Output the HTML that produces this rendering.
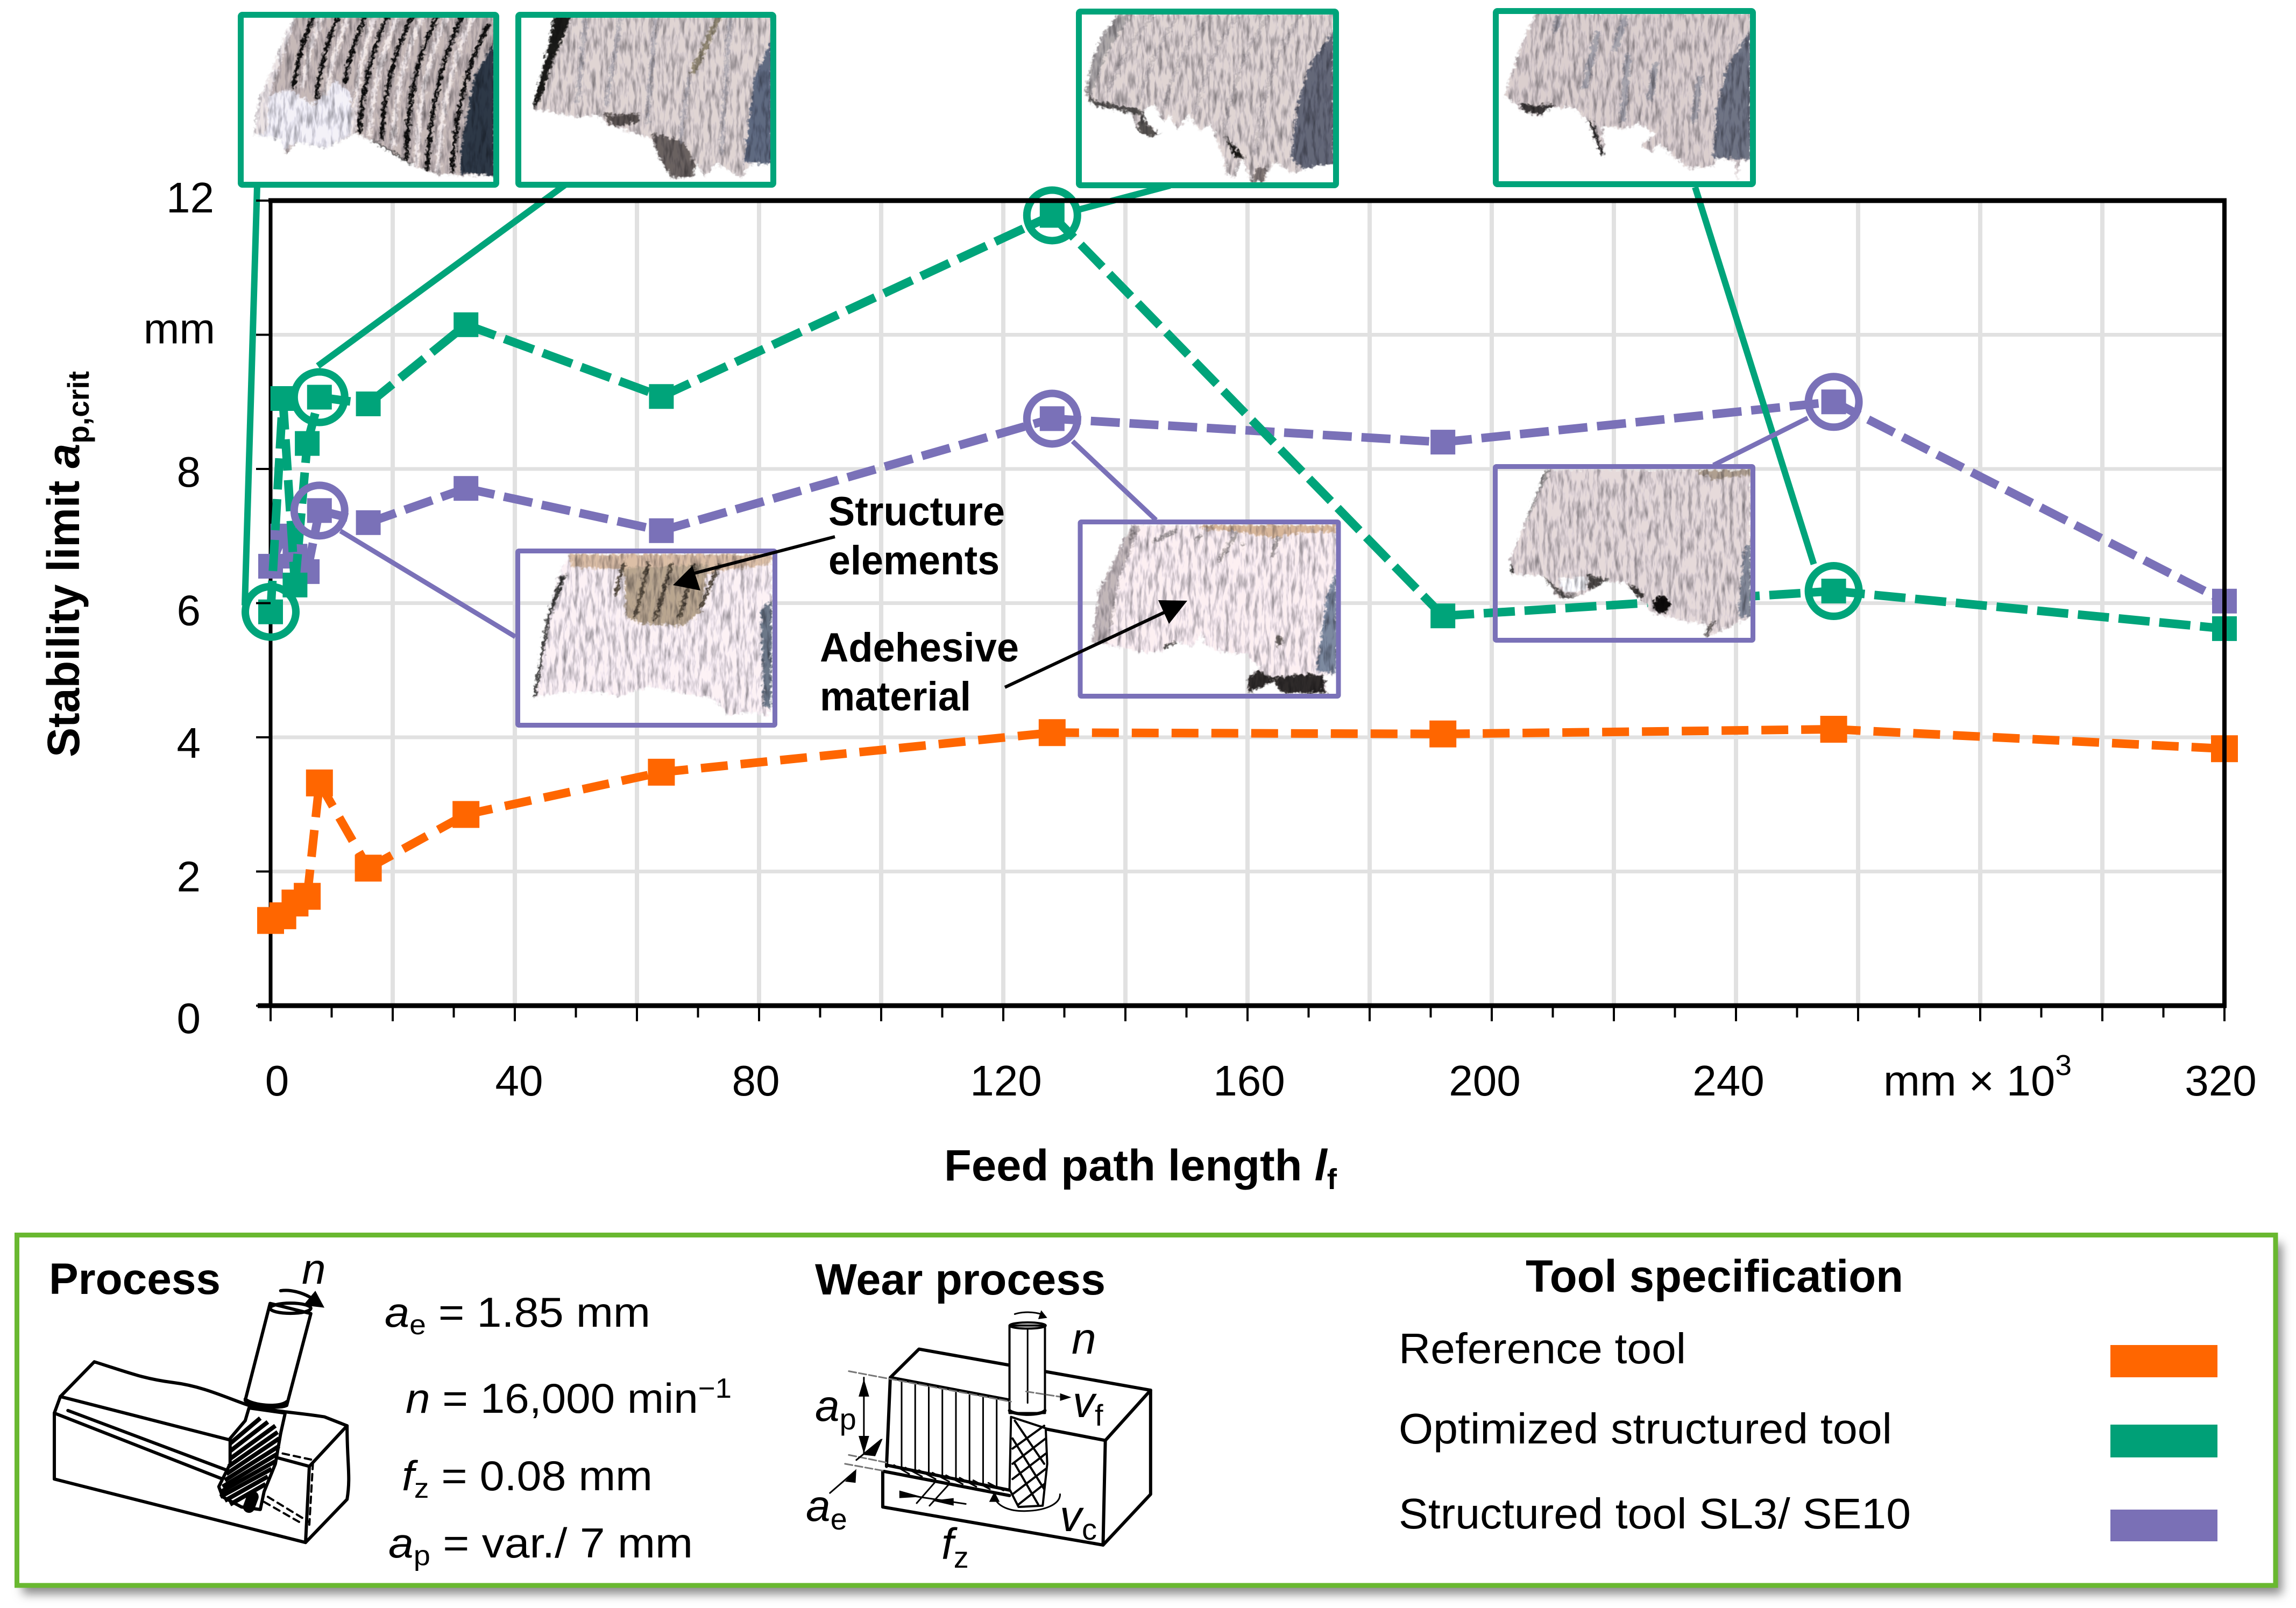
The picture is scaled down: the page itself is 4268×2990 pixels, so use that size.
<!DOCTYPE html>
<html lang="en">
<head>
<meta charset="utf-8">
<title>Stability limit over feed path length</title>
<style>
html,body{margin:0;padding:0;background:#fff;width:4268px;height:2990px;overflow:hidden}
svg{display:block}
text{font-family:"Liberation Sans",sans-serif;fill:#000}
.ill *{vector-effect:non-scaling-stroke}
.ill path,.ill line,.ill ellipse{fill:none;stroke:#000;stroke-width:6;stroke-linejoin:round;stroke-linecap:round}
.ill .thin{stroke-width:3}
.ill .dash{stroke-width:4;stroke-dasharray:12 9}
.ill .grey{stroke:#777;stroke-width:3;stroke-dasharray:14 5}
.ill .solid{fill:#000;stroke:none}
.ill .white{fill:#fff}
.ill .flute{stroke-width:8;stroke-linecap:butt}
.ill .flute2{stroke-width:4}
</style>
</head>
<body>
<svg xmlns="http://www.w3.org/2000/svg" width="4268" height="2990" viewBox="0 0 4268 2990">
<defs>
<filter id="tex" color-interpolation-filters="sRGB">
<feTurbulence type="fractalNoise" baseFrequency="0.14" numOctaves="2" seed="9" result="d"/>
<feGaussianBlur in="SourceGraphic" stdDeviation="1.6" result="b"/>
<feDisplacementMap in="b" in2="d" scale="14" xChannelSelector="R" yChannelSelector="G" result="s"/>
<feTurbulence type="fractalNoise" baseFrequency="0.13 0.03" numOctaves="3" seed="4" result="n"/>
<feColorMatrix in="n" type="matrix" values="0.9 0 0 0 0.48  0.9 0 0 0 0.48  0.9 0 0 0 0.5  0 0 0 0 1" result="g"/>
<feComposite in="s" in2="g" operator="arithmetic" k1="1" k2="0" k3="0" k4="0"/>
</filter>
<filter id="shadowBlur" x="-2%" y="-5%" width="104%" height="110%"><feGaussianBlur stdDeviation="9"/></filter>
<clipPath id="c1"><polygon points="195,48 165,130 140,220 105,330 95,435 160,450 170,500 200,460 270,480 340,430 400,470 470,530 540,565 680,570 680,48"/></clipPath>
<clipPath id="c2"><polygon points="825,48 800,200 770,350 880,380 930,370 950,400 1060,450 1080,510 1110,575 1160,575 1170,530 1190,570 1220,530 1280,575 1300,530 1355,530 1355,48"/></clipPath>
<clipPath id="c3"><polygon points="270,78 180,190 120,340 80,520 130,590 340,630 370,720 440,765 500,750 420,680 400,625 440,590 475,590 520,680 550,640 600,720 660,640 720,730 780,690 810,770 850,870 870,970 920,985 930,940 960,880 1010,1015 1090,1015 1090,960 1140,900 1240,965 1300,940 1470,910 1470,78"/></clipPath>
<clipPath id="c4"><polygon points="305,72 250,250 210,430 190,530 260,620 310,650 360,600 440,600 490,670 540,860 555,870 545,700 620,720 680,690 740,745 690,810 725,850 750,800 860,940 950,925 960,880 1030,900 1035,1015 1045,900 1088,890 1088,72"/></clipPath>
<clipPath id="c5"><polygon points="105,540 85,680 65,900 40,1340 100,1310 160,1310 200,1335 250,1280 370,1350 395,1445 440,1420 465,1445 475,1400 475,540"/></clipPath>
<clipPath id="c6"><polygon points="310,48 230,210 130,410 90,700 200,720 380,760 490,750 560,700 650,725 700,650 720,720 830,760 960,770 970,800 1030,840 955,905 960,985 1020,960 1100,920 1150,988 1400,988 1380,880 1455,880 1455,48"/></clipPath>
<clipPath id="c7"><polygon points="340,160 270,430 210,660 215,745 330,750 390,880 470,860 560,780 630,790 730,960 870,1010 930,1020 920,1095 990,1050 1088,980 1088,160"/></clipPath>
</defs>

<rect x="0" y="0" width="4268" height="2990" fill="#fff"/>

<g id="grid-layer"></g>
<g id="series-layer"></g>

<!-- micrograph insets: tool wear photos -->
<g>
  <g filter="url(#tex)"><g transform="translate(400,0) scale(.765,.574)"><g clip-path="url(#c1)">
    <rect x="80" y="40" width="620" height="540" fill="#c6b9b7"/>
    <polygon points="680,130 630,250 600,450 595,560 680,570" fill="#2d3846"/>
    <polygon points="150,300 180,290 240,340 290,260 330,300 335,430 270,480 200,460 160,490 100,435 105,330" fill="#f4f2f8"/>
    <polygon points="195,48 165,130 140,220 105,330 95,435 125,430 130,320 160,200 190,90" fill="#ece4e4"/>
    <g fill="none" stroke="#f3eae8" stroke-width="11">
      <path d="M262 48 Q225 160 212 285"/><path d="M325 48 Q285 180 268 310"/><path d="M390 48 Q345 200 335 430"/>
      <path d="M445 50 Q385 220 375 440"/><path d="M505 50 Q435 240 432 480"/><path d="M565 50 Q490 250 490 540"/>
      <path d="M628 50 Q550 260 540 560"/>
    </g>
    <g fill="none" stroke="#050505" stroke-width="9">
      <path d="M240 48 Q205 150 190 285"/><path d="M300 48 Q260 170 245 320"/><path d="M365 48 Q320 200 315 270"/>
      <path d="M420 50 Q360 220 350 430"/><path d="M480 50 Q410 230 405 450"/><path d="M540 50 Q465 250 465 520"/>
      <path d="M600 50 Q525 260 515 550"/><path d="M665 80 Q590 250 575 560"/>
    </g>
    <polygon points="360,445 400,465 470,525 500,560 470,540 400,490" fill="#111"/>
  </g></g></g>
</g>
<g>
  <g filter="url(#tex)"><g transform="translate(400,0) scale(.765,.574)"><g clip-path="url(#c2)">
    <rect x="760" y="40" width="610" height="540" fill="#e0d5d3"/>
    <polygon points="820,48 868,48 820,200 790,320 770,355 780,250" fill="#1a1a18"/>
    <polygon points="1355,120 1310,250 1285,525 1355,535" fill="#5f6a80"/>
    <polygon points="1060,430 1140,460 1170,540 1160,580 1105,580 1075,510" fill="#6a6260"/>
    <polygon points="940,370 1030,370 1030,395 970,410" fill="#5a5250"/>
    <path d="M1225 48 L1160 240" stroke="#8f8570" stroke-width="14" fill="none"/>
    <g fill="none" stroke="#8d8f9c" stroke-width="9" opacity=".45"><path d="M900 60 L880 330"/><path d="M985 60 L950 340"/><path d="M1070 60 L1050 400"/><path d="M1150 250 L1130 460"/><path d="M1250 60 L1230 500"/></g>
  </g></g></g>
</g>
<g>
  <g filter="url(#tex)"><g transform="translate(1990,0) scale(.3333)"><g clip-path="url(#c3)">
    <rect x="60" y="70" width="1430" height="960" fill="#e0d5d3"/>
    <polygon points="1470,170 1340,350 1260,600 1230,880 1300,945 1470,910" fill="#646878"/>
    <polygon points="270,78 340,78 190,320 120,520 80,525 120,340 180,190" fill="#aba6a6"/>
    <polygon points="80,500 130,560 340,600 400,620 370,720 440,765 500,750 420,690 410,640 340,635 130,600" fill="#55514f"/>
    <polygon points="860,755 940,850 975,890 920,880" fill="#161412"/>
    <polygon points="1010,1015 1040,930 1090,935 1080,1015" fill="#7e7472"/>
    <g fill="none" stroke="#a59fa4" stroke-width="18" opacity=".5">
      <path d="M470 80 Q300 250 210 520"/><path d="M610 80 Q440 300 380 580"/><path d="M780 80 Q590 300 520 600"/>
      <path d="M940 80 Q770 300 690 640"/><path d="M1110 80 Q930 320 860 720"/><path d="M1290 80 Q1090 340 1030 860"/>
    </g>
  </g></g></g>
</g>
<g>
  <g filter="url(#tex)"><g transform="translate(2700,0) scale(.5102,.3333)"><g clip-path="url(#c4)">
    <rect x="180" y="60" width="920" height="970" fill="#dbcfce"/>
    <polygon points="1088,170 1000,370 960,620 950,880 1088,890" fill="#6f7484"/>
    <g fill="none" stroke="#79808f" stroke-width="22" opacity=".55">
      <path d="M390 80 L375 180"/><path d="M630 90 L590 280"/><path d="M530 180 L480 500"/><path d="M740 350 L720 560"/><path d="M900 420 L880 680"/><path d="M640 300 L620 680"/>
    </g>
    <polygon points="240,570 290,590 370,580 360,615 310,640 260,620" fill="#3a3636"/>
    <path d="M500 670 L550 870" stroke="#2c2a2a" stroke-width="13" fill="none"/>
  </g></g></g>
</g>
<g>
  <g filter="url(#tex)"><g transform="translate(950,850) scale(1.0204,.3333)"><g clip-path="url(#c5)">
    <rect x="30" y="530" width="460" height="930" fill="#fdf2f5"/>
    <polygon points="105,540 475,540 475,595 350,650 250,640 110,610" fill="#dcbfa6"/>
    <polygon points="205,620 360,600 345,860 315,940 240,930 210,890" fill="#b9a68f"/>
    <g fill="none" stroke="#4d4337" stroke-width="6">
      <path d="M205 590 L190 770"/><path d="M250 590 L225 900"/><path d="M293 590 L262 910"/><path d="M335 590 L305 900"/><path d="M380 590 L345 850"/>
    </g>
    <polygon points="455,850 475,800 475,1400 460,1390" fill="#6c7888"/>
    <polygon points="90,660 100,660 70,900 45,1340 38,1340 65,900" fill="#3a3a38"/>
  </g></g></g>
</g>
<g>
  <g filter="url(#tex)"><g transform="translate(2000,960) scale(.3333)"><g clip-path="url(#c6)">
    <rect x="80" y="40" width="1390" height="960" fill="#fdf0f2"/>
    <polygon points="700,48 1455,48 1455,90 1300,85 1100,120 900,85 700,72" fill="#d8b79a"/>
    <polygon points="1455,300 1400,450 1340,860 1455,880" fill="#7d8a9f"/>
    <polygon points="310,48 360,60 240,350 180,710 90,700 130,410 230,210" fill="#c2b7b8"/>
    <g fill="none" stroke="#6b6664" stroke-width="20" opacity=".6"><path d="M325 80 L305 130"/><path d="M570 75 L430 140"/><path d="M700 100 L665 135"/><path d="M900 90 L800 250"/><path d="M930 150 L930 170"/><path d="M1130 110 L1090 230"/></g>
    <polygon points="1020,855 1090,900 1180,890 1250,880 1390,885 1380,950 1400,990 1150,990 1100,930 1020,960 965,988 955,905" fill="#2f2b2a"/>
    <ellipse cx="1135" cy="695" rx="22" ry="26" fill="#6b6460"/>
    <polygon points="490,725 560,690 540,730 500,755" fill="#4b4744"/>
  </g></g></g>
</g>
<g>
  <g filter="url(#tex)"><g transform="translate(2700,820) scale(.5102,.3333)"><g clip-path="url(#c7)">
    <rect x="190" y="150" width="910" height="960" fill="#e6dada"/>
    <polygon points="385,770 490,760 490,820 440,850 405,840" fill="#fff"/>
    <polygon points="330,750 345,790 400,880 470,880 500,840 480,860 410,860 360,790" fill="#55504e"/>
    <polygon points="490,745 570,775 500,840" fill="#4a4644"/>
    <polygon points="640,790 700,860 690,880 650,850" fill="#3c3836"/>
    <ellipse cx="762" cy="912" rx="30" ry="48" fill="#0d0b0b"/>
    <polygon points="205,650 225,740 210,745 200,690" fill="#121110"/>
    <polygon points="340,160 300,300 250,480 275,430 330,230 355,160" fill="#8d8a88"/>
    <polygon points="880,160 1088,160 1088,190 950,215" fill="#b0a090"/>
    <polygon points="1060,620 1088,560 1088,980 1040,980" fill="#838998"/>
    <path d="M915 1095 L950 1010" stroke="#6a6462" stroke-width="14" fill="none"/>
  </g></g></g>
</g>

<g id="callout-layer"></g>

<!-- inset frames -->
<rect x="447.500" y="27.500" width="475" height="316" rx="3" fill="none" stroke="#00a47a" stroke-width="11"/>
<rect x="963.500" y="27.500" width="474" height="316" rx="3" fill="none" stroke="#00a47a" stroke-width="11"/>
<rect x="2005.500" y="21.500" width="478" height="323" rx="3" fill="none" stroke="#00a47a" stroke-width="11"/>
<rect x="2780.500" y="20.500" width="478" height="322" rx="3" fill="none" stroke="#00a47a" stroke-width="11"/>
<rect x="962.500" y="1024.500" width="478" height="324" rx="2" fill="none" stroke="#7a71b8" stroke-width="9"/>
<rect x="2008" y="970.500" width="480" height="324" rx="2" fill="none" stroke="#7a71b8" stroke-width="9"/>
<rect x="2779.500" y="867.500" width="479" height="323" rx="2" fill="none" stroke="#7a71b8" stroke-width="9"/>

<!-- annotation arrows -->
<g>
  <path d="M1552 998 L1275 1070" stroke="#000" stroke-width="6" fill="none"/>
  <polygon points="1251,1088 1287,1052 1302,1098" fill="#000"/>
</g>
<g>
  <path d="M1868 1278 L2170 1136" stroke="#000" stroke-width="6" fill="none"/>
  <polygon points="2207,1117 2153,1116 2173,1160" fill="#000"/>
</g>
<text x="1540" y="977" font-size="76" font-weight="700" textLength="328" lengthAdjust="spacingAndGlyphs">Structure</text>
<text x="1540" y="1068" font-size="76" font-weight="700" textLength="318" lengthAdjust="spacingAndGlyphs">elements</text>
<text x="1524" y="1230" font-size="76" font-weight="700" textLength="370" lengthAdjust="spacingAndGlyphs">Adehesive</text>
<text x="1524" y="1321" font-size="76" font-weight="700" textLength="281" lengthAdjust="spacingAndGlyphs">material</text>

<!-- axis titles and unit -->
<text transform="translate(147,1408) rotate(-90)" font-size="84" font-weight="700" textLength="718" lengthAdjust="spacingAndGlyphs">Stability limit <tspan font-style="italic">a</tspan><tspan font-size="56" dy="18">p,crit</tspan></text>
<text x="1755" y="2195" font-size="82" font-weight="700" textLength="730" lengthAdjust="spacingAndGlyphs">Feed path length <tspan font-style="italic">l</tspan><tspan font-size="54" dy="16">f</tspan></text>
<text x="3501" y="2037" font-size="80" textLength="350" lengthAdjust="spacingAndGlyphs">mm × 10<tspan font-size="54" dy="-38">3</tspan></text>

<!-- lower information panel -->
<g>
  <rect x="42" y="2312" width="4200" height="652" fill="#8a8a8a" filter="url(#shadowBlur)"/>
  <rect x="31.500" y="2296.500" width="4198.500" height="651.500" fill="#fff" stroke="#69b830" stroke-width="9"/>
  <text x="91" y="2406" font-size="82" font-weight="700" textLength="319" lengthAdjust="spacingAndGlyphs">Process</text>
  <text x="1515" y="2407" font-size="82" font-weight="700" textLength="540" lengthAdjust="spacingAndGlyphs">Wear process</text>
  <text x="2836" y="2402" font-size="84" font-weight="700" textLength="702" lengthAdjust="spacingAndGlyphs">Tool specification</text>

  <text x="715" y="2467" font-size="78" textLength="494" lengthAdjust="spacingAndGlyphs"><tspan font-style="italic">a</tspan><tspan font-size="52" dy="14">e</tspan><tspan dy="-14"> = 1.85 mm</tspan></text>
  <text x="754" y="2627" font-size="78" textLength="606" lengthAdjust="spacingAndGlyphs"><tspan font-style="italic">n</tspan> = 16,000 min<tspan font-size="52" dy="-28">−1</tspan></text>
  <text x="747" y="2771" font-size="78" textLength="466" lengthAdjust="spacingAndGlyphs"><tspan font-style="italic">f</tspan><tspan font-size="52" dy="14">z</tspan><tspan dy="-14"> = 0.08 mm</tspan></text>
  <text x="722" y="2896" font-size="78" textLength="566" lengthAdjust="spacingAndGlyphs"><tspan font-style="italic">a</tspan><tspan font-size="52" dy="14">p</tspan><tspan dy="-14"> = var./ 7 mm</tspan></text>

  <!-- process illustration -->
  <g class="ill" transform="translate(0,2250) scale(1.4025,.4719)">
    <path d="M80 735 L125 598 C170 640 190 665 230 680 C270 695 300 740 330 770 C350 790 400 800 430 815 L460 850 L410 1010 L360 970"/>
    <path d="M80 735 L310 910"/>
    <path d="M80 735 L72 800 L72 1060 L405 1310 L460 1140 C465 1050 460 1000 460 850"/>
    <path d="M72 800 L295 1060"/><path d="M90 790 L305 1030"/>
    <path d="M410 1010 L405 1310"/>
    <path class="dash" d="M360 950 L415 985 L410 1240"/>
    <path class="dash" d="M355 1130 L410 1230"/><path class="dash" d="M350 1150 L400 1235"/>
    <path class="white" d="M358 368 L325 750 C330 775 370 785 380 770 L412 408 Z"/>
    <ellipse cx="385" cy="387" rx="27" ry="20"/>
    <path d="M325 745 C335 770 370 780 380 755"/>
    <path class="white" d="M330 780 L378 800 L372 880 L365 1000 L350 1110 L345 1180 L320 1170 L295 1130 L290 1090 L305 1000 L305 900 L325 830 Z"/>
    <path class="flute" d="M305 920 L345 820"/><path class="flute" d="M305 950 L355 835"/>
    <path class="flute" d="M305 980 L365 850"/><path class="flute" d="M303 1010 L368 875"/>
    <path class="flute" d="M300 1040 L370 900"/><path class="flute" d="M298 1065 L370 930"/>
    <path class="flute" d="M295 1090 L368 960"/><path class="flute" d="M293 1110 L365 990"/>
    <path class="flute" d="M292 1130 L360 1020"/><path class="flute" d="M298 1145 L355 1050"/>
    <path class="flute" d="M305 1160 L352 1080"/>
    <path d="M335 1130 L330 1170" style="stroke-width:22"/>
    <path d="M372 318 C385 312 400 325 412 345"/>
    <path class="solid" d="M402 375 L430 385 L418 318 Z"/>
  </g>
  <text x="561" y="2387" font-size="80" font-style="italic">n</text>

  <!-- wear process illustration -->
  <g class="ill" transform="translate(0,2250) scale(1.4025,.4719)">
    <path d="M1180 660 L1218 548 L1525 710 L1465 908 L1385 862"/>
    <path d="M1180 660 L1340 750"/>
    <path d="M1180 660 L1175 1010"/>
    <path d="M1175 1005 L1340 1105"/>
    <path d="M1170 1030 L1170 1170 L1462 1320 L1465 908"/>
    <path d="M1525 710 L1525 1120 L1462 1320"/>
    <path class="thin" d="M1195 670 V1015 M1213 680 V1025 M1231 690 V1035 M1249 700 V1045 M1267 710 V1055 M1285 720 V1065 M1303 730 V1075 M1321 740 V1090"/>
    <path class="thin" d="M1185 1005 L1205 1040 M1200 1015 L1222 1050 M1218 1025 L1240 1060 M1236 1035 L1258 1070 M1254 1045 L1276 1080 M1272 1055 L1294 1090 M1290 1065 L1312 1100 M1310 1075 L1330 1105"/>
    <path d="M1172 1030 L1338 1125"/>
    <path class="white" style="stroke-width:4" d="M1338 455 L1338 800 L1385 800 L1385 455 Z"/>
    <ellipse cx="1362" cy="455" rx="24" ry="12" style="stroke-width:4"/>
    <path class="thin" d="M1362 470 V760"/>
    <path d="M1338 790 C1345 810 1380 810 1385 790"/>
    <path class="white" style="stroke-width:4" d="M1340 815 L1386 860 L1388 1000 L1382 1165 L1350 1170 L1338 1100 Z"/>
    <path class="flute2" d="M1342 940 L1384 850"/><path class="flute2" d="M1342 1000 L1386 900"/>
    <path class="flute2" d="M1342 1060 L1386 960"/><path class="flute2" d="M1342 1120 L1386 1020"/>
    <path class="flute2" d="M1350 1160 L1384 1080"/>
    <path class="flute2" d="M1345 830 L1384 1000"/><path class="flute2" d="M1342 900 L1384 1100"/>
    <path class="flute2" d="M1345 1000 L1376 1160"/>
    <path class="thin" d="M1318 1125 C1320 1170 1340 1188 1360 1186 C1385 1184 1405 1160 1405 1120"/>
    <path class="solid" d="M1311 1150 L1318 1110 L1325 1150 Z"/>
    <path class="thin" d="M1345 410 C1355 400 1370 400 1382 412"/>
    <path class="solid" d="M1376 430 L1380 395 L1388 425 Z"/>
    <path class="thin" d="M1145 660 V960"/>
    <path class="solid" d="M1138 735 L1145 665 L1152 735 Z"/><path class="solid" d="M1138 890 L1145 960 L1152 890 Z"/>
    <path class="grey" d="M1125 635 L1340 755"/><path class="grey" d="M1360 715 L1410 738"/>
    <path class="solid" d="M1405 722 L1420 738 L1405 752 Z"/>
    <path class="grey" d="M1125 965 L1175 995"/><path class="grey" d="M1120 1000 L1172 1028"/>
    <path class="thin" d="M1100 1115 L1133 1030"/><path class="solid" d="M1120 1070 L1135 1020 L1134 1075 Z"/>
    <path class="thin" d="M1135 985 L1168 905"/><path class="solid" d="M1145 965 L1170 900 L1160 970 Z"/>
    <path class="thin" d="M1215 1155 L1240 1070 M1232 1165 L1258 1080"/>
    <path class="thin" d="M1195 1120 L1280 1158"/>
    <path class="solid" d="M1192 1105 L1222 1130 L1192 1135 Z"/><path class="solid" d="M1264 1135 L1235 1145 L1264 1165 Z"/>
  </g>
  <text x="1515" y="2642" font-size="82"><tspan font-style="italic">a</tspan><tspan font-size="56" dy="16">p</tspan></text>
  <text x="1498" y="2828" font-size="82"><tspan font-style="italic">a</tspan><tspan font-size="56" dy="16">e</tspan></text>
  <text x="1750" y="2899" font-size="82"><tspan font-style="italic">f</tspan><tspan font-size="56" dy="16">z</tspan></text>
  <text x="1994" y="2635" font-size="82"><tspan font-style="italic">v</tspan><tspan font-size="56" dy="16">f</tspan></text>
  <text x="1970" y="2847" font-size="82"><tspan font-style="italic">v</tspan><tspan font-size="56" dy="16">c</tspan></text>
  <text x="1992" y="2517" font-size="82" font-style="italic">n</text>

  <!-- legend -->
  <text x="2600" y="2535" font-size="80" textLength="534" lengthAdjust="spacingAndGlyphs">Reference tool</text>
  <text x="2600" y="2684" font-size="80" textLength="917" lengthAdjust="spacingAndGlyphs">Optimized structured tool</text>
  <text x="2600" y="2842" font-size="80" textLength="952" lengthAdjust="spacingAndGlyphs">Structured tool SL3/ SE10</text>
  <rect x="3923" y="2501" width="199" height="60" fill="#ff6600"/>
  <rect x="3923" y="2649" width="199" height="61" fill="#00a077"/>
  <rect x="3923" y="2807" width="199" height="59" fill="#7a70b6"/>
</g>

<g id="axis-layer"></g>

<script>
// Chart data
const feedPath = [0, 2, 4, 6, 8, 16, 32, 64, 128, 192, 256, 320];
const referenceTool = [1.27, 1.34, 1.53, 1.63, 3.32, 2.05, 2.85, 3.48, 4.07, 4.05, 4.12, 3.83];
const optimizedTool = [5.87, 9.05, 6.27, 8.38, 9.07, 8.97, 10.15, 9.08, 11.78, 5.81, 6.18, 5.62];
const structuredTool = [6.55, 7.0, 6.7, 6.47, 7.38, 7.2, 7.71, 7.08, 8.75, 8.4, 9.0, 6.03];
const xTickValues = [0, 40, 80, 120, 160, 200, 240, 320];
const xTickLabels = ['0', '40', '80', '120', '160', '200', '240', '320'];
const yTickValues = [0, 2, 4, 6, 8, 10, 12];
const yTickLabels = ['0', '2', '4', '6', '8', 'mm', '12'];
const optimizedHighlights = [0, 4, 8, 10];
const structuredHighlights = [4, 8, 10];

// Layout
const plot = {left: 503, right: 4135, top: 373, bottom: 1870};
const xMax = 320, yMax = 12;
const NS = 'http://www.w3.org/2000/svg';
function xPos(v) { return plot.left + v / xMax * (plot.right - plot.left); }
function yPos(v) { return plot.bottom - v / yMax * (plot.bottom - plot.top); }
function make(parent, tag, attrs) {
  const n = document.createElementNS(NS, tag);
  for (const k in attrs) n.setAttribute(k, attrs[k]);
  parent.appendChild(n);
  return n;
}
const gridLayer = document.getElementById('grid-layer');
const seriesLayer = document.getElementById('series-layer');
const calloutLayer = document.getElementById('callout-layer');
const axisLayer = document.getElementById('axis-layer');

// Grid lines
for (let v = 20; v < xMax; v += 20) {
  const el = make(gridLayer, 'line', {x1: xPos(v), x2: xPos(v), y1: plot.top, y2: plot.bottom, stroke: '#e1e1e1', 'stroke-width': 8});
  
  
}
yTickValues.slice(1, -1).forEach(function (v) {
  const el = make(gridLayer, 'line', {x1: plot.left, x2: plot.right, y1: yPos(v), y2: yPos(v), stroke: '#e1e1e1', 'stroke-width': 7});
  
  
});

// Left axis sits under the series
const yAxisLine = make(gridLayer, 'line', {x1: plot.left, x2: plot.left, y1: plot.top, y2: plot.bottom, stroke: '#000', 'stroke-width': 7});



// Series: dashed segments plus square markers
function drawSeries(values, color, markerSize, dash, key) {
  const g = make(seriesLayer, 'g', {});
  
  
  for (let i = 0; i + 1 < values.length; i++) {
    const seg = make(g, 'line', {x1: xPos(feedPath[i]), y1: yPos(values[i]), x2: xPos(feedPath[i + 1]), y2: yPos(values[i + 1]), stroke: color, 'stroke-width': 16, 'stroke-dasharray': dash});
    
    
  }
  values.forEach(function (v, i) {
    const m = make(g, 'rect', {x: xPos(feedPath[i]) - markerSize / 2, y: yPos(v) - markerSize / 2, width: markerSize, height: markerSize, fill: color});
    
    
  });
}
drawSeries(referenceTool, '#ff6600', 50, '50 24', 'reference-tool');
drawSeries(structuredTool, '#7a71b8', 46, '54 18', 'structured-tool');
drawSeries(optimizedTool, '#00a47a', 46, '58 18', 'optimized-tool');

// Highlight circles and leader lines to the photo insets
function leader(boxX, boxY, values, idx, dx, dy, color, width, key) {
  const el = make(calloutLayer, 'line', {x1: boxX, y1: boxY, x2: xPos(feedPath[idx]) + dx, y2: yPos(values[idx]) + dy, stroke: color, 'stroke-width': width});
  
  
}
leader(478, 345, optimizedTool, 0, -48, -12, '#00a47a', 12, 'optimized-0');
leader(1050, 344, optimizedTool, 4, -3, -58, '#00a47a', 12, 'optimized-8');
leader(2175, 345, optimizedTool, 8, 43, -9, '#00a47a', 12, 'optimized-128');
leader(3151, 348, optimizedTool, 10, -37, -50, '#00a47a', 12, 'optimized-256');
leader(958, 1184, structuredTool, 4, 39, 38, '#7a71b8', 9, 'structured-8');
leader(2149, 967, structuredTool, 8, 38, 42, '#7a71b8', 9, 'structured-128');
leader(3185, 865, structuredTool, 10, -48, 30, '#7a71b8', 9, 'structured-256');

function ring(values, idx, color, key) {
  const el = make(calloutLayer, 'circle', {cx: xPos(feedPath[idx]), cy: yPos(values[idx]), r: 47, fill: 'none', stroke: color, 'stroke-width': 14});
  
  
}
structuredHighlights.forEach(function (i) { ring(structuredTool, i, '#7a71b8', 'structured'); });
optimizedHighlights.forEach(function (i) { ring(optimizedTool, i, '#00a47a', 'optimized'); });

// Axes
const topBorder = make(axisLayer, 'line', {x1: plot.left - 4, x2: plot.right + 4, y1: plot.top, y2: plot.top, stroke: '#000', 'stroke-width': 9});


const rightBorder = make(axisLayer, 'line', {x1: plot.right, x2: plot.right, y1: plot.top, y2: plot.bottom, stroke: '#000', 'stroke-width': 8});


const xAxisLine = make(axisLayer, 'line', {x1: plot.left - 24, x2: plot.right + 4, y1: plot.bottom, y2: plot.bottom, stroke: '#000', 'stroke-width': 9});



for (let v = 0; v <= xMax; v += 10) {
  const major = v % 20 === 0;
  const t = make(axisLayer, 'line', {x1: xPos(v), x2: xPos(v), y1: plot.bottom, y2: plot.bottom + (major ? 29 : 22), stroke: '#000', 'stroke-width': 4});
  
  
}
const xLabelNudge = [12, 8, -6, 5, 3, -13, -14, -7];
xTickValues.forEach(function (v, i) {
  const t = make(axisLayer, 'text', {x: xPos(v) + xLabelNudge[i], y: 2037, 'font-size': 80, 'text-anchor': 'middle'});
  t.textContent = xTickLabels[i];
  
  
});
yTickValues.forEach(function (v) {
  const t = make(axisLayer, 'line', {x1: plot.left - 27, x2: plot.left, y1: yPos(v), y2: yPos(v), stroke: '#000', 'stroke-width': 4});
  
  
});
const yLabelBaseline = [51, 37, 38, 41, 33, 16, 22];
const yLabelRight = [373, 373, 373, 373, 373, 400, 398];
yTickValues.forEach(function (v, i) {
  const t = make(axisLayer, 'text', {x: yLabelRight[i], y: yPos(v) + yLabelBaseline[i], 'font-size': 80, 'text-anchor': 'end'});
  t.textContent = yTickLabels[i];
  
  
});
</script>
</svg>
</body>
</html>
